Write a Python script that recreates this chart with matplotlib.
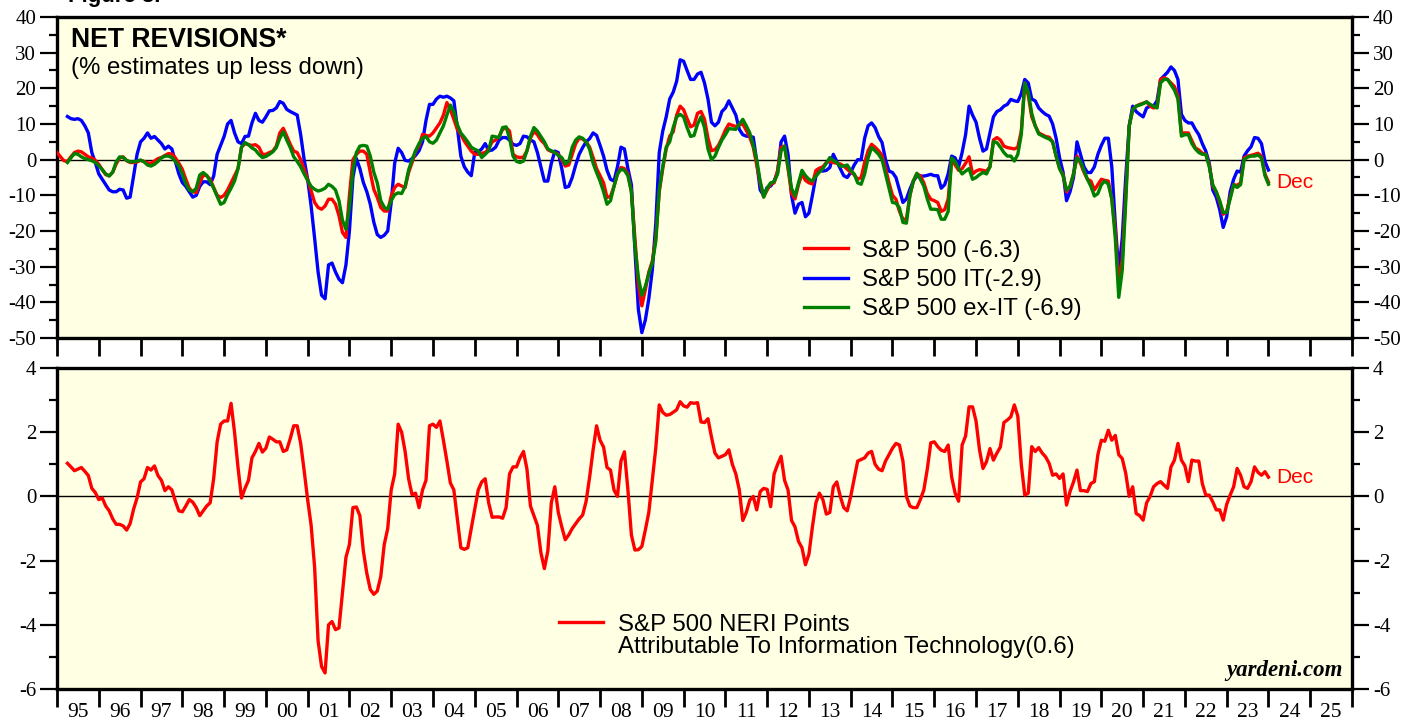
import numpy as np
import matplotlib
matplotlib.use('Agg')
import matplotlib.pyplot as plt
from matplotlib.lines import Line2D
from matplotlib.ticker import MultipleLocator, FixedLocator, NullFormatter, FixedFormatter

plt.rcParams['axes.unicode_minus'] = False

# ---------------- data (monthly, Jan 1995 .. Dec 2023; month-end positions) ----------------
START_YEAR = 1995

sp500 = [
    2.0, 0.8, -0.3, -0.5, 0.8, 2.0, 2.4, 2.2, 1.5, 0.8, 0.5, -0.2,
    -1.3, -2.8, -4.2, -4.5, -3.5, -1.2, 0.5, 0.8, -0.3, -0.8, -0.8, -0.6,
    -0.2, -0.5, -0.9, -1.0, -0.4, 0.3, 0.6, 1.2, 1.7, 1.6, 0.5, -1.0,
    -2.7, -5.5, -8.0, -9.0, -9.2, -6.5, -4.3, -4.5, -5.5, -7.8, -10.0, -10.6,
    -10.0, -8.5, -6.5, -4.5, -2.5, 3.5, 4.5, 4.2, 4.0, 4.2, 3.5, 1.5,
    1.5, 2.0, 2.4, 3.8, 7.5, 8.8, 6.6, 4.3, 2.4, 2.0, 0.0, -2.7,
    -5.5, -8.8, -12.0, -13.4, -13.9, -13.0, -11.1, -11.1, -12.5, -15.7, -20.4, -21.8,
    -10.0, 0.0, 1.5, 2.4, 2.4, 1.5, -3.6, -8.3, -10.6, -13.4, -14.4, -14.4,
    -10.2, -7.8, -6.9, -7.4, -7.8, -3.6, -0.8, 2.4, 3.8, 7.1, 6.8, 6.6,
    7.5, 8.9, 10.3, 12.5, 16.0, 14.0, 11.3, 8.5, 7.1, 5.2, 3.8, 2.4,
    1.5, 1.5, 1.8, 2.0, 3.0, 5.0, 5.5, 6.5, 8.5, 9.0, 8.0, 1.5,
    0.8, 0.6, 0.7, 2.5, 6.0, 8.0, 7.0, 5.5, 4.5, 2.8, 2.3, 2.0,
    1.5, 0.0, -1.8, -1.5, 1.5, 4.5, 6.0, 5.8, 5.0, 3.5, 0.6, -2.5,
    -4.5, -6.5, -10.6, -10.3, -7.5, -4.0, -2.2, -2.5, -4.0, -9.0, -22.0, -35.0,
    -41.0, -36.5, -31.5, -28.5, -22.0, -9.0, -2.5, 3.0, 6.6, 7.8, 12.5, 15.0,
    14.0, 11.5, 9.2, 9.7, 13.0, 13.5, 11.3, 6.0, 2.5, 2.8, 4.0, 6.0,
    8.3, 10.0, 9.6, 9.3, 9.8, 10.0, 8.2, 6.3, 3.5, -1.5, -6.5, -10.4,
    -8.5, -6.8, -6.5, -3.0, 3.5, 3.8, -2.5, -9.5, -11.0, -7.0, -4.0, -5.8,
    -6.5, -6.8, -3.0, -2.4, -2.0, -0.8, -0.5, -0.8, -1.0, -1.2, -1.8, -2.7,
    -3.5, -4.2, -5.5, -5.0, -0.8, 2.5, 4.3, 3.5, 2.5, 1.2, -2.5, -6.5,
    -10.0, -11.1, -14.5, -16.7, -16.7, -10.0, -6.0, -4.0, -4.5, -6.5, -9.5, -11.1,
    -11.5, -12.0, -14.5, -14.0, -11.0, 0.0, -1.5, -3.0, -2.5, -1.0, 0.8, -4.0,
    -3.2, -2.8, -3.0, -3.2, -2.0, 5.5, 6.2, 5.5, 3.8, 3.4, 3.2, 3.0,
    3.5, 8.0, 21.5, 18.0, 12.0, 9.5, 7.5, 7.0, 6.5, 6.3, 5.0, 1.0,
    -2.5, -4.2, -9.0, -7.5, -4.0, 1.0, -1.0, -3.5, -5.5, -6.0, -8.5, -7.0,
    -5.5, -5.8, -6.0, -11.0, -20.0, -34.9, -28.0, -10.0, 9.4, 14.0, 15.0, 15.5,
    15.8, 16.2, 15.0, 14.5, 14.8, 22.5, 23.0, 22.5, 21.5, 20.5, 18.0, 7.5,
    7.5, 7.5, 5.3, 3.3, 2.7, 1.8, 1.5, -1.5, -7.5, -9.0, -12.0, -15.3,
    -14.5, -10.5, -7.0, -7.2, -6.5, 0.5, 1.0, 1.2, 1.5, 1.8, 1.0, -4.0, -6.3,
]

sp500_it = [
    12.1, 11.5, 11.3, 11.5, 11.0, 9.5, 7.5, 2.0, -0.8,
    -4.0, -5.5, -7.0, -8.5, -9.0, -9.0, -8.3, -8.5, -10.8, -10.5, -4.6, 1.5,
    5.0, 6.0, 7.5, 6.0, 6.5, 5.5, 4.5, 3.0, 3.8, 3.0, -0.5, -4.0,
    -6.4, -7.5, -9.0, -10.5, -10.0, -7.5, -6.2, -6.2, -7.0, -4.6, 1.5, 4.0,
    6.5, 10.0, 11.0, 7.5, 5.0, 4.5, 6.5, 6.6, 10.3, 13.0, 11.0, 10.5,
    12.0, 13.7, 13.8, 14.5, 16.3, 15.8, 14.1, 13.5, 13.0, 12.5, 7.0, 0.0,
    -5.5, -13.0, -22.0, -31.5, -38.0, -39.0, -29.5, -29.0, -31.5, -33.5, -34.5, -29.5,
    -20.0, -5.0, 0.3, -2.5, -6.4, -9.0, -12.5, -17.5, -21.0, -21.8, -21.2, -20.0,
    -12.0, -1.0, 3.2, 2.0, -0.2, -0.4, 0.3, 1.2, 2.5, 5.0, 11.0, 15.5,
    15.5, 17.0, 17.8, 17.5, 17.8, 17.3, 16.5, 9.0, 1.0, -2.0, -3.5, -4.5,
    2.0, 2.2, 3.0, 4.5, 2.5, 2.7, 3.5, 5.5, 6.2, 6.2, 5.5, 4.3,
    4.0, 4.5, 6.6, 6.4, 5.5, 5.0, 2.0, -2.0, -6.0, -6.0, -1.0, 2.4,
    2.0, -2.5, -7.8, -7.5, -5.0, -1.5, 1.5, 3.4, 5.0, 5.9, 7.5, 6.8,
    4.0, 1.0, -3.0, -5.5, -6.0, -2.0, 3.5, 3.0, -2.5, -7.0, -25.0, -42.0,
    -48.5, -45.0, -39.0, -31.0, -18.0, 2.0, 8.0, 12.0, 17.0, 18.9, 22.0, 28.0,
    27.6, 25.0, 22.5, 22.5, 24.0, 24.5, 21.5, 17.0, 10.5, 9.5, 10.5, 13.5,
    14.5, 16.5, 14.5, 12.5, 8.5, 7.0, 6.6, 6.5, 6.3, -0.5, -8.5, -10.0,
    -7.8, -7.4, -6.0, -3.5, 5.0, 6.6, 1.5, -10.0, -15.0, -12.5, -12.0, -16.0,
    -15.0, -10.0, -4.6, -3.0, -3.2, -3.0, -2.2, 1.5, -0.5, -2.5, -4.5, -5.0,
    -3.6, -1.5, 0.0, 0.0, 6.0, 9.5, 10.3, 9.0, 6.5, 4.8, 0.0, -3.2,
    -3.6, -5.0, -8.5, -12.0, -11.0, -8.3, -6.0, -4.6, -4.6, -4.6, -4.4, -4.1,
    -4.5, -4.5, -8.0, -7.0, -4.0, 1.0, 0.5, -2.0, 2.0, 7.0, 15.0, 12.5,
    10.5, 6.0, 2.4, 3.0, 7.5, 12.0, 13.5, 14.0, 15.0, 15.5, 16.9, 16.5,
    16.3, 18.5, 22.5, 21.5, 17.0, 16.5, 14.5, 13.5, 12.7, 12.2, 10.0, 6.0,
    0.5, -3.5, -11.5, -9.0, -5.0, 5.0, 1.5, -2.0, -3.6, -3.6, -2.0, 1.5,
    4.0, 6.0, 6.0, -2.0, -18.0, -31.5, -22.0, -5.0, 9.5, 15.0, 13.5, 12.7,
    12.0, 14.5, 15.0, 15.0, 16.5, 22.5, 23.5, 24.5, 26.0, 25.0, 22.5, 12.7,
    11.0, 10.3, 10.3, 8.5, 7.0, 4.5, 2.4, -1.0, -8.5, -10.5, -14.0, -19.0,
    -16.0, -9.0, -5.5, -3.2, -3.5, 1.0, 2.5, 3.6, 6.2, 6.0, 4.5, -0.5, -2.9,
]

sp500_ex_it = [
    -0.8, 0.5, 1.7, 1.5, 0.8, 0.3, 0.0, -0.3, -0.8,
    -1.7, -2.8, -4.0, -4.6, -3.5, -0.6, 0.8, 0.6, -0.2, -0.6, -0.6, -0.4,
    -0.1, -0.6, -1.5, -1.8, -1.3, -0.5, 0.5, 1.0, 1.0, 0.6, -0.5, -1.8,
    -4.0, -6.8, -8.5, -9.0, -8.0, -4.3, -3.6, -4.4, -6.0, -8.0, -10.3, -12.5,
    -12.0, -9.8, -8.0, -6.0, -2.5, 3.5, 4.8, 4.2, 3.3, 2.7, 1.5, 0.6,
    0.9, 1.5, 2.2, 3.4, 6.0, 7.8, 5.5, 3.4, 0.8, -0.5, -2.0, -4.0,
    -5.8, -7.5, -8.3, -8.8, -8.5, -8.0, -6.9, -7.5, -8.5, -11.5, -17.0, -19.5,
    -13.5, -3.0, 2.0, 3.8, 4.0, 3.8, 1.0, -3.5, -6.5, -11.5, -13.3, -13.9,
    -11.5, -9.8, -9.3, -9.5, -7.5, -2.9, 0.0, 2.5, 4.5, 6.0, 6.5, 5.0,
    4.6, 5.5, 7.5, 9.5, 12.5, 15.3, 13.5, 9.8, 7.5, 6.3, 5.0, 3.5,
    2.9, 2.5, 0.6, 1.5, 2.5, 6.6, 6.4, 6.2, 9.0, 9.2, 6.0, 1.0,
    -0.5, -0.8, -0.4, 2.5, 6.5, 9.0, 8.0, 6.5, 5.0, 3.0, 2.5, 2.0,
    1.2, 0.6, -1.2, -0.5, 3.5, 5.5, 6.4, 6.0, 5.0, 2.9, -1.0, -3.6,
    -6.0, -9.0, -12.5, -11.5, -7.5, -4.0, -2.7, -3.0, -4.5, -9.0, -24.0, -33.0,
    -38.0, -35.5, -32.0, -29.0, -23.0, -8.5, -2.0, 3.5, 5.0, 9.0, 12.0, 12.7,
    12.0, 9.0, 6.5, 6.8, 10.0, 12.0, 9.0, 3.0, 0.0, 1.0, 3.4, 5.5,
    7.0, 8.7, 8.6, 8.5, 10.0, 11.3, 9.5, 7.5, 4.0, 0.0, -6.0, -10.5,
    -8.0, -6.5, -6.2, -4.0, 2.5, 3.8, -2.0, -8.0, -10.2, -6.5, -3.0, -4.5,
    -5.5, -6.0, -4.6, -3.5, -2.5, -1.0, 0.6, -0.2, -0.8, -1.8, -1.8, -1.5,
    -3.0, -4.0, -6.5, -6.9, -4.0, 0.5, 3.4, 2.5, 1.5, 0.0, -4.0, -8.0,
    -12.0, -12.2, -13.5, -17.6, -17.8, -10.0, -6.0, -3.8, -5.5, -7.4, -11.0, -13.9,
    -13.9, -14.0, -16.7, -16.7, -14.5, 0.5, -0.5, -2.5, -4.0, -3.2, -2.5, -5.5,
    -5.0, -4.2, -3.6, -4.0, -2.0, 5.0, 4.8, 3.5, 2.0, 1.0, 1.0, -0.4,
    1.5, 7.0, 21.5, 19.0, 13.0, 9.5, 7.2, 6.7, 6.2, 5.8, 5.0, 1.0,
    -2.5, -4.5, -8.5, -7.5, -4.0, 0.5, -0.5, -3.0, -5.5, -7.5, -10.2, -9.5,
    -7.0, -6.0, -6.9, -11.0, -22.0, -38.6, -31.0, -12.0, 9.4, 14.0, 15.0, 15.3,
    15.7, 16.2, 15.5, 15.0, 14.5, 21.5, 22.5, 22.5, 21.0, 19.5, 17.0, 6.6,
    7.0, 7.0, 4.5, 3.0, 2.0, 1.5, 1.5, -2.0, -7.0, -9.0, -11.5, -14.8,
    -14.8, -11.0, -7.0, -7.8, -7.0, 0.0, 0.7, 1.0, 1.0, 1.3, 0.5, -4.5, -6.9,
]

neri_it_points = [
    1.03, 0.92, 0.8, 0.85, 0.9, 0.78, 0.65, 0.25, 0.12,
    -0.1, -0.05, -0.3, -0.45, -0.7, -0.87, -0.87, -0.92, -1.05, -0.85, -0.4, -0.05,
    0.45, 0.55, 0.9, 0.82, 0.95, 0.65, 0.5, 0.18, 0.3, 0.2, -0.15, -0.45,
    -0.48, -0.3, -0.1, -0.18, -0.35, -0.6, -0.45, -0.3, -0.2, 0.55, 1.7, 2.25,
    2.35, 2.35, 2.9, 2.0, 0.9, -0.05, 0.25, 0.5, 1.2, 1.4, 1.65, 1.38,
    1.5, 1.85, 1.78, 1.7, 1.7, 1.4, 1.45, 1.8, 2.2, 2.2, 1.65, 0.8,
    -0.1, -0.9, -2.2, -4.5, -5.3, -5.5, -4.0, -3.9, -4.15, -4.1, -3.0, -1.9,
    -1.5, -0.35, -0.33, -0.6, -1.7, -2.4, -2.9, -3.05, -2.95, -2.5, -1.5, -1.0,
    0.2, 0.7, 2.25, 2.0, 1.4, 0.55, 0.05, 0.1, -0.35, 0.2, 0.5, 2.2,
    2.25, 2.15, 2.35, 1.75, 1.1, 0.42, 0.2, -0.7, -1.6, -1.65, -1.6, -1.0,
    -0.4, 0.2, 0.45, 0.55, -0.2, -0.65, -0.64, -0.64, -0.68, -0.35, 0.7, 0.92,
    0.92, 1.2, 1.4, 0.85, -0.3, -0.6, -0.9, -1.75, -2.25, -1.7, -0.2, 0.3,
    -0.5, -0.95, -1.35, -1.2, -1.0, -0.85, -0.7, -0.58, -0.15, 0.6, 1.45, 2.2,
    1.75, 1.54, 0.9, 0.82, 0.2, 0.0, 1.1, 1.39, 0.2, -1.2, -1.67, -1.66,
    -1.56, -1.05, -0.5, 0.5, 1.5, 2.85, 2.62, 2.53, 2.55, 2.62, 2.7, 2.95,
    2.82, 2.78, 2.92, 2.9, 2.92, 2.32, 2.3, 2.42, 1.85, 1.35, 1.2, 1.25,
    1.3, 1.45, 1.0, 0.7, 0.2, -0.75, -0.5, -0.12, 0.0, -0.42, 0.15, 0.25,
    0.22, -0.32, 0.7, 1.0, 1.25, 0.5, 0.2, -0.75, -0.95, -1.4, -1.6, -2.13,
    -1.8, -0.95, -0.2, 0.1, -0.1, -0.55, -0.5, 0.3, 0.45, 0.0, -0.35, -0.45,
    0.0, 0.55, 1.1, 1.15, 1.2, 1.35, 1.4, 1.0, 0.85, 0.8, 1.1, 1.3,
    1.5, 1.65, 1.6, 1.1, 0.0, -0.3, -0.35, -0.35, -0.1, 0.2, 0.85, 1.67,
    1.7, 1.55, 1.44, 1.4, 1.6, 0.6, 0.1, -0.15, 1.6, 1.88, 2.79, 2.79,
    2.35, 1.45, 0.87, 1.08, 1.49, 1.13, 1.35, 1.54, 2.3, 2.38, 2.48, 2.85,
    2.5, 1.0, 0.04, 0.1, 1.55, 1.4, 1.52, 1.35, 1.23, 1.03, 0.66, 0.7,
    0.56, 0.7, -0.27, 0.15, 0.45, 0.82, 0.18, 0.18, 0.15, 0.4, 0.46, 1.3,
    1.75, 1.72, 2.06, 1.75, 1.9, 1.3, 1.18, 0.72, 0.0, 0.3, -0.53, -0.6,
    -0.74, -0.2, 0.0, 0.3, 0.4, 0.46, 0.35, 0.25, 0.92, 1.13, 1.65, 1.13,
    0.95, 0.46, 1.13, 1.1, 1.1, 0.4, 0.04, 0.04, -0.17, -0.42, -0.42, -0.74,
    -0.25, 0.04, 0.3, 0.87, 0.66, 0.3, 0.25, 0.46, 0.92, 0.75, 0.66, 0.77, 0.6,
]

years = list(range(1995, 2026))
year_labels = [f"{y % 100:02d}" for y in years]

top_labels = ["S&P 500 (-6.3)", "S&P 500 IT(-2.9)", "S&P 500 ex-IT (-6.9)"]
bottom_label_1 = "S&P 500 NERI Points"
bottom_label_2 = "Attributable To Information Technology(0.6)"

# ---------------- positions ----------------
n_all = len(sp500)
x_all = START_YEAR + np.arange(n_all) / 12.0


def xs_for(series):
    return x_all[n_all - len(series):]


RED = '#FF0000'
BLUE = '#0000FF'
GREEN = '#008000'
BG = '#FFFFE3'
SANS = 'Liberation Sans'
SERIF = 'Liberation Serif'
LW = 2.4

fig = plt.figure(figsize=(14.17, 7.21), dpi=100)
W, H = 1417.0, 721.0
left = 57 / W
width = (1352 - 57) / W
ax1 = fig.add_axes([left, 1 - 338 / H, width, (338 - 17) / H])
ax2 = fig.add_axes([left, 1 - 689 / H, width, (689 - 368) / H])

for ax in (ax1, ax2):
    ax.set_facecolor(BG)
    for s in ax.spines.values():
        s.set_linewidth(2.4)
        s.set_color('black')
    ax.set_xlim(1995, 2026)
    ax.axhline(0, color='black', lw=1.0, zorder=1)
    ax.xaxis.set_major_locator(FixedLocator(list(range(1995, 2027))))
    ax.xaxis.set_major_formatter(NullFormatter())
    ax.tick_params(axis='x', which='major', direction='out', length=13, width=2.0, bottom=True, top=False)
    ax.tick_params(axis='y', which='major', direction='out', length=12, width=1.6,
                   left=True, right=True, labelleft=True, labelright=True, pad=3)
    ax.tick_params(axis='y', which='minor', direction='out', length=6, width=1.6, left=True, right=True)

# ---- top panel ----
ax1.plot(xs_for(sp500_it), sp500_it, color=BLUE, lw=LW, label=top_labels[1], zorder=3)
ax1.plot(xs_for(sp500), sp500, color=RED, lw=LW, label=top_labels[0], zorder=4)
ax1.plot(xs_for(sp500_ex_it), sp500_ex_it, color=GREEN, lw=LW, label=top_labels[2], zorder=5)
ax1.set_ylim(-50, 40)
ax1.yaxis.set_major_locator(MultipleLocator(10))
ax1.yaxis.set_minor_locator(MultipleLocator(5))

h = {l.get_label(): l for l in ax1.get_lines()}
ax1.legend([h[top_labels[0]], h[top_labels[1]], h[top_labels[2]]], top_labels,
           loc='upper left', bbox_to_anchor=(0.5765, 0.306), frameon=False,
           prop={'family': SANS, 'size': 17.3}, handlelength=1.85, handletextpad=0.6,
           labelspacing=0.3, borderpad=0, borderaxespad=0)

ax1.text(0.011, 0.968, "NET REVISIONS*", transform=ax1.transAxes, fontsize=19.2,
         fontweight='bold', family=SANS, va='top', ha='left')
ax1.text(0.011, 0.875, "(% estimates up less down)", transform=ax1.transAxes, fontsize=17.3,
         family=SANS, va='top', ha='left')
ax1.text(x_all[-1] + 0.18, sp500[-1], "Dec", color=RED, fontsize=15, family=SANS,
         va='center', ha='left', clip_on=False)

# ---- bottom panel ----
l2, = ax2.plot(xs_for(neri_it_points), neri_it_points, color=RED, lw=LW, zorder=4)
ax2.set_ylim(-6, 4)
ax2.yaxis.set_major_locator(MultipleLocator(2))
ax2.yaxis.set_minor_locator(MultipleLocator(1))
ax2.xaxis.set_minor_locator(FixedLocator([y + 0.5 for y in years]))
ax2.xaxis.set_minor_formatter(FixedFormatter(year_labels))
ax2.tick_params(axis='x', which='minor', length=0, pad=10, labelsize=15.5)
for lab in ax2.get_xticklabels(minor=True):
    lab.set_fontfamily(SERIF)

blank = Line2D([], [], color='none')
ax2.legend([l2, blank], [bottom_label_1, bottom_label_2], loc='upper left',
           bbox_to_anchor=(0.3875, 0.234), frameon=False,
           prop={'family': SANS, 'size': 17.3}, handlelength=1.85, handletextpad=0.6,
           labelspacing=0.0, borderpad=0, borderaxespad=0)

ax2.text(x_all[-1] + 0.18, neri_it_points[-1], "Dec", color=RED, fontsize=15, family=SANS,
         va='center', ha='left', clip_on=False)
ax2.text(0.9925, 0.025, "yardeni.com", transform=ax2.transAxes, fontsize=16.5,
         family=SERIF, fontweight='bold', fontstyle='italic', ha='right', va='bottom')

for ax in (ax1, ax2):
    for lab in ax.get_yticklabels():
        lab.set_fontfamily(SERIF)
        lab.set_fontsize(15)

fig.text(68 / W, 1 - 2 / H, "Figure 3.", fontsize=16, fontweight='bold', family=SANS,
         ha='left', va='baseline')

fig.savefig('out.png', dpi=100, facecolor='white')
